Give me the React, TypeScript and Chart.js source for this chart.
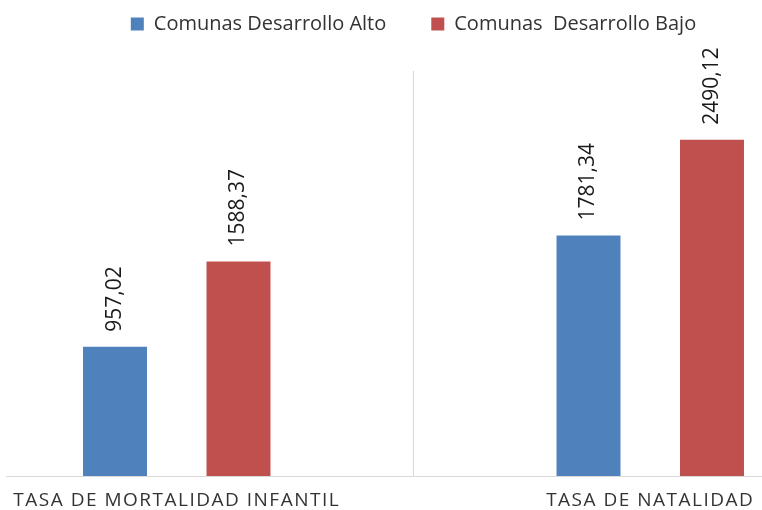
import React, { useEffect, useRef } from "react";
import { Chart, registerables } from "chart.js";

Chart.register(...registerables);

const categories = ["TASA DE MORTALIDAD INFANTIL", "TASA DE NATALIDAD"];
const seriesNames = ["Comunas Desarrollo Alto", "Comunas  Desarrollo Bajo"];
const altoValues = [957.02, 1781.34];
const bajoValues = [1588.37, 2490.12];
const seriesColors = ["#4F81BD", "#C0504D"];
const yMax = 3000;

const FONT = "'Open Sans', 'Noto Sans', sans-serif";
const LEGEND_HEIGHT = 102;

const fmt = (v: number) => v.toFixed(2).replace(".", ",");

const legendFit = {
  id: "legendFit",
  beforeInit(chart: any) {
    const legend = chart.legend;
    if (!legend) return;
    const orig = legend.fit;
    legend.fit = function () {
      orig.call(this);
      this.height = LEGEND_HEIGHT;
    };
  },
};

const valueLabels = {
  id: "valueLabels",
  afterDatasetsDraw(chart: any) {
    const ctx = chart.ctx;
    ctx.save();
    ctx.fillStyle = "#1a1a1a";
    ctx.font = `21px ${FONT}`;
    ctx.textAlign = "left";
    ctx.textBaseline = "middle";
    chart.data.datasets.forEach((ds: any, di: number) => {
      const meta = chart.getDatasetMeta(di);
      meta.data.forEach((bar: any, i: number) => {
        ctx.save();
        ctx.translate(bar.x, bar.y - 15);
        ctx.rotate(-Math.PI / 2);
        ctx.fillText(fmt(ds.data[i]), 0, 0);
        ctx.restore();
      });
    });
    ctx.restore();
  },
};

const categoryLabels = {
  id: "categoryLabels",
  afterDraw(chart: any) {
    const ctx = chart.ctx;
    const x = chart.scales.x;
    ctx.save();
    ctx.fillStyle = "#333333";
    ctx.font = `19px ${FONT}`;
    (ctx as any).letterSpacing = "1.5px";
    ctx.textAlign = "center";
    ctx.textBaseline = "alphabetic";
    categories.forEach((c, i) => {
      ctx.fillText(c, x.getPixelForValue(i), chart.chartArea.bottom + 30);
    });
    ctx.restore();
  },
};

export default function App() {
  const ref = useRef<HTMLCanvasElement | null>(null);
  useEffect(() => {
    if (!ref.current) return;
    const chart = new Chart(ref.current, {
      type: "bar",
      data: {
        labels: categories,
        datasets: [
          {
            label: seriesNames[0],
            data: altoValues,
            backgroundColor: seriesColors[0],
            categoryPercentage: 0.5216,
            barPercentage: 0.518,
          },
          {
            label: seriesNames[1],
            data: bajoValues,
            backgroundColor: seriesColors[1],
            categoryPercentage: 0.5216,
            barPercentage: 0.518,
          },
        ],
      },
      options: {
        responsive: false,
        animation: false,
        layout: { padding: { top: -31, bottom: 34, left: 0, right: 0 } },
        plugins: {
          legend: {
            position: "top",
            labels: {
              boxWidth: 13,
              boxHeight: 13,
              padding: 45,
              color: "#333333",
              font: { family: FONT, size: 20 },
            },
          },
          tooltip: { enabled: false },
        },
        scales: {
          x: {
            ticks: { display: false },
            grid: { display: true, offset: true, color: "#D9D9D9", drawTicks: false },
            border: { display: true, color: "#D9D9D9" },
          },
          y: {
            display: false,
            min: 0,
            max: yMax,
          },
        },
      },
      plugins: [legendFit, valueLabels, categoryLabels],
    });
    return () => chart.destroy();
  }, []);
  return (
    <div
      style={{
        position: "fixed",
        left: 6,
        top: 0,
        width: 756,
        height: 510,
        overflow: "hidden",
        background: "#fff",
      }}
    >
      <div style={{ position: "absolute", left: -66, top: 0, width: 947, height: 510 }}>
        <canvas ref={ref} width={947} height={510} style={{ width: 947, height: 510 }} />
      </div>
    </div>
  );
}
